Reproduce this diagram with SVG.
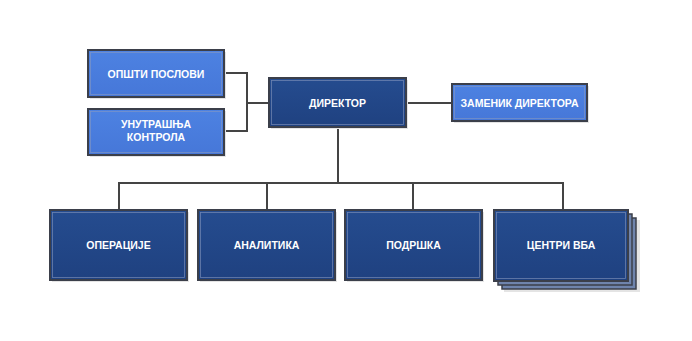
<svg xmlns="http://www.w3.org/2000/svg" width="692" height="341" viewBox="0 0 692 341">
<defs>
<linearGradient id="gLight" x1="0" y1="0" x2="0" y2="1">
<stop offset="0" stop-color="#4d82e2"/>
<stop offset="1" stop-color="#4677d8"/>
</linearGradient>
<linearGradient id="gDark" x1="0" y1="0" x2="0" y2="1">
<stop offset="0" stop-color="#254c8f"/>
<stop offset="1" stop-color="#1f4180"/>
</linearGradient>
</defs>
<style>
.shadow{fill:#e4e4e4}
.frame{stroke:#3b3f4a;stroke-width:2}
.inner{fill:none;stroke:#8a9bc0;stroke-width:0.8;stroke-opacity:0.7}
.light{fill:url(#gLight)}
.dark{fill:url(#gDark)}
.stack{fill:#6f84ac;stroke:#3b3f4a;stroke-width:1.5}
.lbl{font-family:"Liberation Sans",Arial,sans-serif;font-weight:bold;font-size:10.5px;fill:#ffffff;text-anchor:middle}
.conn{fill:none;stroke:#444444;stroke-width:2}
</style>
<rect width="692" height="341" fill="#ffffff"/>
<g id="connectors">
<path class="conn" d="M224 73 H247 V131 H224"/>
<path class="conn" d="M247 103 H269"/>
<path class="conn" d="M406 103 H452"/>
<path class="conn" d="M338 127 V183" stroke-width="2.5"/>
<path class="conn" d="M119 210 V183 H563 V210"/>
<path class="conn" d="M267 183 V210"/>
<path class="conn" d="M413 183 V210"/>
</g>
<g id="node-opsti">
<rect class="shadow" x="90" y="52" width="136" height="47"/>
<rect class="light frame" x="88" y="50" width="136" height="47"/>
<rect class="inner" x="90.5" y="52.5" width="131" height="42"/>
<text class="lbl" x="156" y="77.5">ОПШТИ ПОСЛОВИ</text>
</g>
<g id="node-unutrasnja">
<rect class="shadow" x="90" y="111" width="136" height="46"/>
<rect class="light frame" x="88" y="109" width="136" height="46"/>
<rect class="inner" x="90.5" y="111.5" width="131" height="41"/>
<text class="lbl" x="156" y="128">УНУТРАШЊА</text>
<text class="lbl" x="156" y="141">КОНТРОЛА</text>
</g>
<g id="node-direktor">
<rect class="shadow" x="271" y="80" width="137" height="49"/>
<rect class="dark frame" x="269" y="78" width="137" height="49"/>
<rect class="inner" x="271.5" y="80.5" width="132" height="44"/>
<text class="lbl" x="337.5" y="106.5">ДИРЕКТОР</text>
</g>
<g id="node-zamenik">
<rect class="shadow" x="454" y="86" width="135" height="37"/>
<rect class="light frame" x="452" y="84" width="135" height="37"/>
<rect class="inner" x="454.5" y="86.5" width="130" height="32"/>
<text class="lbl" x="519.5" y="106.5">ЗАМЕНИК ДИРЕКТОРА</text>
</g>
<g id="node-operacije">
<rect class="shadow" x="52" y="212" width="137" height="70"/>
<rect class="dark frame" x="50" y="210" width="137" height="70"/>
<rect class="inner" x="52.5" y="212.5" width="132" height="65"/>
<text class="lbl" x="118.5" y="248.5">ОПЕРАЦИЈЕ</text>
</g>
<g id="node-analitika">
<rect class="shadow" x="200" y="212" width="137" height="70"/>
<rect class="dark frame" x="198" y="210" width="137" height="70"/>
<rect class="inner" x="200.5" y="212.5" width="132" height="65"/>
<text class="lbl" x="266.5" y="248.5">АНАЛИТИКА</text>
</g>
<g id="node-podrska">
<rect class="shadow" x="347" y="212" width="137" height="70"/>
<rect class="dark frame" x="345" y="210" width="137" height="70"/>
<rect class="inner" x="347.5" y="212.5" width="132" height="65"/>
<text class="lbl" x="413.5" y="248.5">ПОДРШКА</text>
</g>
<g id="node-centri">
<rect class="shadow" x="504" y="220" width="136" height="72"/>
<rect class="stack" x="502" y="218" width="134" height="71"/>
<rect class="stack" x="498" y="214" width="134" height="71"/>
<rect class="dark frame" x="494" y="210" width="134" height="71"/>
<rect class="inner" x="496.5" y="212.5" width="129" height="66"/>
<text class="lbl" x="561" y="248.5">ЦЕНТРИ ВБА</text>
</g>
</svg>
